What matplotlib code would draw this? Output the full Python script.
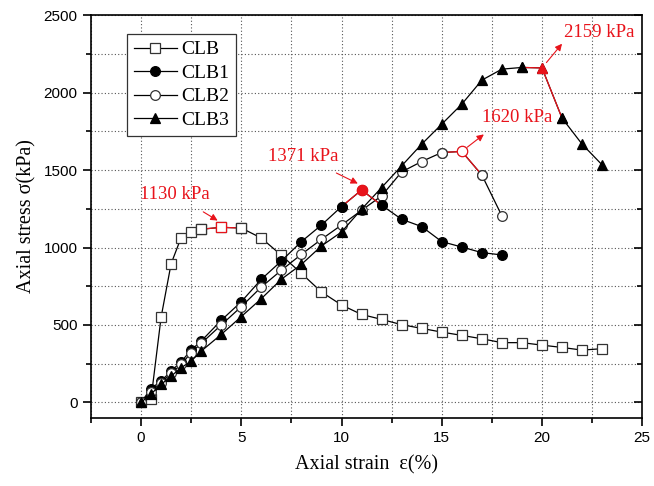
import numpy as np
from matplotlib import pyplot as plt
from matplotlib.ticker import MultipleLocator

plt.rcParams['font.family'] = 'Liberation Sans'
serif = 'Liberation Serif'

# strain (%) for each series
x_clb = [0, 0.5, 1, 1.5, 2, 2.5, 3, 4, 5, 6, 7, 8, 9, 10, 11, 12, 13, 14, 15, 16, 17, 18, 19, 20, 21, 22, 23]
y_clb = [0, 24, 549, 895, 1064, 1100, 1118, 1130, 1126, 1061, 950, 833, 713, 629, 568, 536, 502, 478, 454, 433, 411, 386, 386, 370, 355, 338, 347]

x_clb1 = [0, 0.5, 1, 1.5, 2, 2.5, 3, 4, 5, 6, 7, 8, 9, 10, 11, 12, 13, 14, 15, 16, 17, 18]
y_clb1 = [0, 90, 138, 202, 263, 338, 396, 530, 650, 795, 913, 1038, 1145, 1264, 1371, 1273, 1182, 1135, 1038, 1003, 967, 952]

x_clb2 = [0, 0.5, 1, 1.5, 2, 2.5, 3, 4, 5, 6, 7, 8, 9, 10, 11, 12, 13, 14, 15, 16, 17, 18]
y_clb2 = [0, 70, 127, 187, 245, 321, 381, 500, 618, 745, 853, 956, 1053, 1145, 1240, 1333, 1488, 1555, 1613, 1620, 1468, 1204]

x_clb3 = [0, 0.5, 1, 1.5, 2, 2.5, 3, 4, 5, 6, 7, 8, 9, 10, 11, 12, 13, 14, 15, 16, 17, 18, 19, 20, 21, 22, 23]
y_clb3 = [0, 55, 116, 170, 224, 267, 331, 439, 554, 670, 795, 891, 1010, 1100, 1247, 1387, 1527, 1667, 1796, 1925, 2080, 2151, 2162, 2159, 1835, 1667, 1533]

# index of peak point in each series
peak_clb, peak_clb1, peak_clb2, peak_clb3 = 7, 14, 19, 23

fig = plt.figure(figsize=(6.54, 4.86), dpi=100)
ax = fig.add_axes([0.139, 0.140, 0.843, 0.829])

mk = dict(markersize=7, markeredgewidth=0.9, linewidth=0.9, color='black')
ax.plot(x_clb, y_clb, marker='s', markerfacecolor='white', markeredgecolor='#333333', label='CLB', **mk)
ax.plot(x_clb1, y_clb1, marker='o', markerfacecolor='black', label='CLB1', **mk)
ax.plot(x_clb2, y_clb2, marker='o', markerfacecolor='white', markeredgecolor='#333333', label='CLB2', **mk)
ax.plot(x_clb3, y_clb3, marker='^', markerfacecolor='black', label='CLB3', **mk)

red = '#e8131b'
# red segments and red peak markers
for xs, ys, p, m, fill in [(x_clb, y_clb, peak_clb, 's', 'white'),
                           (x_clb1, y_clb1, peak_clb1, 'o', red),
                           (x_clb2, y_clb2, peak_clb2, 'o', 'white'),
                           (x_clb3, y_clb3, peak_clb3, '^', red)]:
    ax.plot(xs[p-1:p+2], ys[p-1:p+2], color=red, linewidth=0.9, zorder=3)
    ax.plot([xs[p-1], xs[p+1]], [ys[p-1], ys[p+1]], linestyle='none', marker=m,
            markersize=7, markerfacecolor=fill if fill == 'white' else 'black',
            markeredgecolor='#333333' if fill == 'white' else 'black', markeredgewidth=0.9, zorder=4)
    ax.plot(xs[p], ys[p], marker=m, markersize=7.5, markerfacecolor=fill,
            markeredgecolor=red, markeredgewidth=0.9, linestyle='none', zorder=5)

# annotations
fs_ann = 13.5
arrow = dict(arrowstyle='-|>', color=red, lw=0.8, mutation_scale=10)
ax.annotate('1130 kPa', xy=(x_clb[peak_clb], y_clb[peak_clb] + 30), xytext=(1.7, 1340),
            color=red, fontsize=fs_ann, family=serif, ha='center', va='center',
            arrowprops=dict(arrow, shrinkA=8, shrinkB=3))
ax.annotate('1371 kPa', xy=(x_clb1[peak_clb1], y_clb1[peak_clb1] + 30), xytext=(8.1, 1585),
            color=red, fontsize=fs_ann, family=serif, ha='center', va='center',
            arrowprops=dict(arrow, shrinkA=8, shrinkB=3))
ax.annotate('', xy=(17.1, 1730), xytext=(x_clb2[peak_clb2], y_clb2[peak_clb2]),
            arrowprops=dict(arrow, shrinkA=5, shrinkB=0))
ax.text(18.75, 1838, '1620 kPa', color=red, fontsize=fs_ann, family=serif, ha='center', va='center')
ax.annotate('', xy=(21.0, 2315), xytext=(x_clb3[peak_clb3], y_clb3[peak_clb3]),
            arrowprops=dict(arrow, shrinkA=5, shrinkB=0))
ax.text(22.85, 2385, '2159 kPa', color=red, fontsize=fs_ann, family=serif, ha='center', va='center')

ax.set_xlim(-2.5, 25)
ax.set_ylim(-100, 2500)
ax.xaxis.set_major_locator(MultipleLocator(5))
ax.xaxis.set_minor_locator(MultipleLocator(2.5))
ax.yaxis.set_major_locator(MultipleLocator(500))
ax.yaxis.set_minor_locator(MultipleLocator(250))
ax.grid(True, which='both', linestyle=(0, (1, 2)), color='#555555', linewidth=0.8)
ax.tick_params(which='both', direction='out', labelsize=11, width=1.2, right=True, top=False)
ax.tick_params(which='major', length=6)
ax.tick_params(which='minor', length=3.5)
# right-hand ticks point inward
for t in ax.yaxis.get_ticklines(minor=False)[1::2]:
    t.set_marker(0)
for t in ax.yaxis.get_ticklines(minor=True)[1::2]:
    t.set_marker(0)
for s in ax.spines.values():
    s.set_linewidth(1.2)

ax.set_xlabel('Axial strain  ε(%)', family=serif, fontsize=14.5, labelpad=7)
ax.set_ylabel('Axial stress σ(kPa)', family=serif, fontsize=14.5, labelpad=5)

leg = ax.legend(loc='upper left', bbox_to_anchor=(0.065, 0.953), borderaxespad=0,
                prop={'family': serif, 'size': 14},
                fancybox=False, edgecolor='#333333', framealpha=1, handlelength=2.25,
                borderpad=0.35, labelspacing=0.3, handletextpad=0.2)
leg.get_frame().set_linewidth(0.9)

fig.savefig('out.png', dpi=100)
